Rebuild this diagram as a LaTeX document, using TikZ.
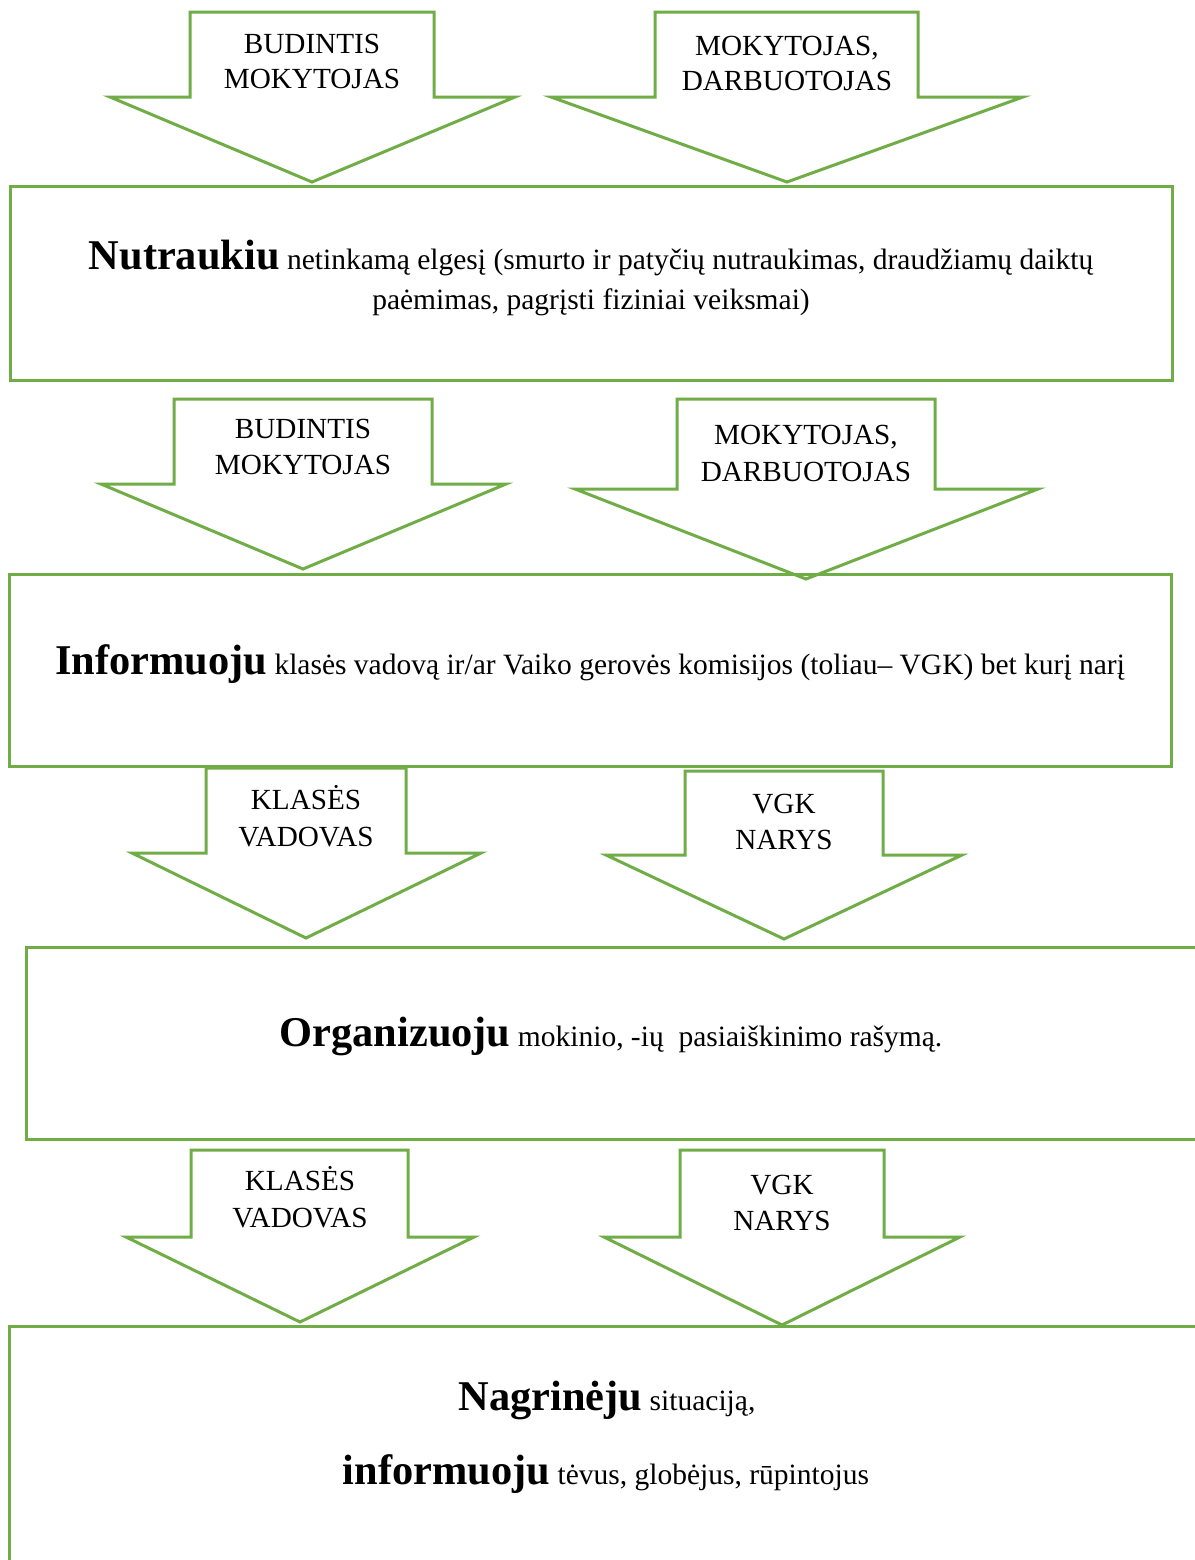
\documentclass[tikz,border=0pt]{standalone}
\usepackage{fontspec}
\setmainfont{Liberation Serif}
\definecolor{grn}{HTML}{70AD47}
\newcommand\bigwd{\fontsize{21.2}{24}\selectfont\bfseries}
\begin{document}
\begin{tikzpicture}[x=0.5pt,y=-0.5pt,
  arrowshape/.style={draw=grn, line width=1.5pt, fill=white, line join=miter},
  boxshape/.style={draw=grn, line width=1.5pt},
  lbl/.style={inner sep=0pt, anchor=base, font=\fontsize{14.6}{18}\selectfont},
  bodytext/.style={inner sep=0pt, anchor=base, font=\fontsize{14.75}{18}\selectfont}]
\clip (0,0) rectangle (1195,1560);
\fill[white] (0,0) rectangle (1195,1560);

% ---- arrows row 1
\draw[arrowshape] (190,12) -- (434,12) -- (434,97) -- (515,97) -- (312,182) -- (110,97) -- (190,97) -- cycle;
\draw[arrowshape] (655,12) -- (918,12) -- (918,97) -- (1023,97) -- (787,182) -- (551,97) -- (655,97) -- cycle;
\node[lbl] (a1l1) at (312,53) {BUDINTIS};
\node[lbl] (a1l2) at (312,88) {MOKYTOJAS};
\node[lbl] (a2l1) at (787,55) {MOKYTOJAS,};
\node[lbl] (a2l2) at (787,90) {DARBUOTOJAS};

% ---- box 1
\draw[boxshape] (10,186) rectangle (1172,380);
\node[bodytext] (b1l1) at (591,269) {{\bigwd Nutraukiu} netinkamą elgesį (smurto ir patyčių nutraukimas, draudžiamų daiktų};
\node[bodytext] (b1l2) at (591,309) {paėmimas, pagrįsti fiziniai veiksmai)};

% ---- arrows row 2
\draw[arrowshape] (174,399) -- (432,399) -- (432,484) -- (506,484) -- (303,569) -- (101,484) -- (174,484) -- cycle;
\draw[arrowshape] (677,399) -- (935,399) -- (935,489) -- (1038,489) -- (806,579) -- (575,489) -- (677,489) -- cycle;
\node[lbl] (a3l1) at (303,438) {BUDINTIS};
\node[lbl] (a3l2) at (303,474) {MOKYTOJAS};
\node[lbl] (a4l1) at (806,444) {MOKYTOJAS,};
\node[lbl] (a4l2) at (806,481) {DARBUOTOJAS};

% ---- box 2
\draw[boxshape] (9,574) rectangle (1171,766);
\node[bodytext] (b2l1) at (590,674) {{\bigwd Informuoju} klasės vadovą ir/ar Vaiko gerovės komisijos (toliau– VGK) bet kurį narį};

% ---- arrows row 3
\draw[arrowshape] (206,768) -- (406,768) -- (406,853) -- (481,853) -- (306,938) -- (132,853) -- (206,853) -- cycle;
\draw[arrowshape] (685,771) -- (883,771) -- (883,855) -- (962,855) -- (784,939) -- (606,855) -- (685,855) -- cycle;
\node[lbl] (a5l1) at (306,809) {KLASĖS};
\node[lbl] (a5l2) at (306,846) {VADOVAS};
\node[lbl] (a6l1) at (784,813) {VGK};
\node[lbl] (a6l2) at (784,849) {NARYS};

% ---- box 3
\draw[boxshape] (26,947) rectangle (1210,1139);
\node[bodytext] (b3l1) at (611,1046) {{\bigwd Organizuoju} mokinio, -ių\ \ pasiaiškinimo rašymą.};

% ---- arrows row 4
\draw[arrowshape] (191,1150) -- (408,1150) -- (408,1237) -- (474,1237) -- (300,1322) -- (126,1237) -- (191,1237) -- cycle;
\draw[arrowshape] (680,1150) -- (884,1150) -- (884,1237) -- (960,1237) -- (782,1325) -- (604,1237) -- (680,1237) -- cycle;
\node[lbl] (a7l1) at (300,1190) {KLASĖS};
\node[lbl] (a7l2) at (300,1227) {VADOVAS};
\node[lbl] (a8l1) at (782,1194) {VGK};
\node[lbl] (a8l2) at (782,1230) {NARYS};

% ---- box 4
\draw[boxshape] (9,1326) rectangle (1210,1600);
\node[bodytext] (b4l1) at (607,1410) {{\bigwd Nagrinėju} situaciją,};
\node[bodytext] (b4l2) at (606,1484) {{\bigwd informuoju} tėvus, globėjus, rūpintojus};
\end{tikzpicture}
\end{document}
